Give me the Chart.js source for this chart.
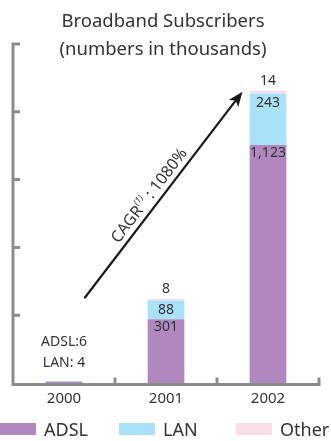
<!DOCTYPE html>
<html>
<head>
<meta charset="utf-8">
<script src="https://cdn.jsdelivr.net/npm/chart.js@4/dist/chart.umd.min.js"></script>
<style>
  html, body { margin: 0; padding: 0; background: #fff; }
  #wrap { width: 331px; height: 441px; position: relative; }
</style>
</head>
<body>
<div id="wrap"><canvas id="c"></canvas></div>
<script>
// Broadband subscribers by year, in thousands
const years = ['2000', '2001', '2002'];
const adsl  = [6, 301, 1123];
const lan   = [4, 88, 243];
const other = [0, 8, 14];
const yTicks = [0, 320, 640, 960, 1280, 1600];
const titleLines = ['Broadband Subscribers', '(numbers in thousands)'];
const cagrLabel = 'CAGR';
const cagrNote = '(1)';
const cagrValue = ' : 1080%';

const FONT = '"Noto Sans", "Open Sans", sans-serif';
const TEXT = '#333333';
const AXIS = '#8c8c8c';
const COLORS = { adsl: '#b088bf', lan: '#a9e1f9', other: '#f9dde8' };

// growth arrow, in data space (category index, value)
const ARROW_FROM = { x: 0.2, y: 400 };
const ARROW_TO = { x: 1.75, y: 1375 };

const fmt = v => v.toLocaleString('en-US');

// axes drawn under the bars, with inward ticks
const axes = {
  id: 'axes',
  beforeDatasetsDraw(chart) {
    const ctx = chart.ctx;
    const xs = chart.scales.x, ys = chart.scales.y;
    const area = chart.chartArea;
    const base = area.bottom + 1.5;
    ctx.save();
    ctx.strokeStyle = AXIS;
    ctx.lineWidth = 3;
    ctx.beginPath();
    ctx.moveTo(area.left, ys.getPixelForValue(yTicks[yTicks.length - 1]) - 1.5);
    ctx.lineTo(area.left, base + 1.5);
    ctx.moveTo(area.left, base);
    ctx.lineTo(area.right + 1.5, base);
    yTicks.forEach(v => {
      if (v === 0) return;
      const y = ys.getPixelForValue(v);
      ctx.moveTo(area.left, y);
      ctx.lineTo(area.left + 7, y);
    });
    const half = (xs.getPixelForValue(1) - xs.getPixelForValue(0)) / 2;
    for (let i = 0; i <= years.length; i++) {
      const x = i < years.length ? xs.getPixelForValue(i) - half : xs.getPixelForValue(i - 1) + half;
      ctx.moveTo(x, base);
      ctx.lineTo(x, base - 7);
    }
    ctx.stroke();
    ctx.restore();
  }
};

const overlay = {
  id: 'overlay',
  afterDraw(chart) {
    const ctx = chart.ctx;
    const xs = chart.scales.x, ys = chart.scales.y;
    const area = chart.chartArea;
    ctx.save();

    // title
    ctx.fillStyle = TEXT;
    ctx.font = '18.5px ' + FONT;
    ctx.textAlign = 'center';
    ctx.textBaseline = 'middle';
    ctx.fillText(titleLines[0], 163, 22);
    ctx.fillText(titleLines[1], 163, 50);

    // value labels
    ctx.font = '14px ' + FONT;
    years.forEach((yr, i) => {
      const x = xs.getPixelForValue(i);
      const total = adsl[i] + lan[i] + other[i];
      const topPx = ys.getPixelForValue(total);
      if (area.bottom - topPx < 20) {
        ctx.fillText('ADSL:' + adsl[i], x, topPx - 39);
        ctx.fillText('LAN: ' + lan[i], x, topPx - 18);
        return;
      }
      ctx.fillText(fmt(adsl[i]), x, ys.getPixelForValue(adsl[i]) + 8);
      ctx.fillText(fmt(lan[i]), x, ys.getPixelForValue(adsl[i] + lan[i]) + 9);
      ctx.fillText(fmt(other[i]), x, topPx - 10);
    });

    // growth arrow
    const x0 = xs.getPixelForValue(ARROW_FROM.x), y0 = ys.getPixelForValue(ARROW_FROM.y);
    const x1 = xs.getPixelForValue(ARROW_TO.x), y1 = ys.getPixelForValue(ARROW_TO.y);
    const ang = Math.atan2(y1 - y0, x1 - x0);
    const head = 15, hw = 6;
    ctx.strokeStyle = '#1a1a1a';
    ctx.fillStyle = '#1a1a1a';
    ctx.lineWidth = 2.2;
    ctx.beginPath();
    ctx.moveTo(x0, y0);
    ctx.lineTo(x1 - Math.cos(ang) * (head - 4), y1 - Math.sin(ang) * (head - 4));
    ctx.stroke();
    ctx.translate(x1, y1);
    ctx.rotate(ang);
    ctx.beginPath();
    ctx.moveTo(0, 0);
    ctx.lineTo(-head, -hw);
    ctx.lineTo(-head + 4, 0);
    ctx.lineTo(-head, hw);
    ctx.closePath();
    ctx.fill();
    ctx.setTransform(1, 0, 0, 1, 0, 0);

    // CAGR caption along the arrow
    const len = Math.hypot(x1 - x0, y1 - y0);
    const ux = (x1 - x0) / len, uy = (y1 - y0) / len;
    const along = 121, off = 6;
    const cx = x0 + ux * along + uy * off, cy = y0 + uy * along - ux * off;
    ctx.translate(cx, cy);
    ctx.rotate(ang);
    ctx.fillStyle = TEXT;
    ctx.textBaseline = 'alphabetic';
    ctx.textAlign = 'left';
    const big = '16px ' + FONT, small = 'italic 9px ' + FONT;
    ctx.font = big; const w1 = ctx.measureText(cagrLabel).width;
    ctx.font = small; const w2 = ctx.measureText(cagrNote).width;
    ctx.font = big; const w3 = ctx.measureText(cagrValue).width;
    let sx = -(w1 + w2 + w3) / 2;
    ctx.font = big; ctx.fillText(cagrLabel, sx, 0); sx += w1;
    ctx.font = small; ctx.fillText(cagrNote, sx, -8); sx += w2;
    ctx.font = big; ctx.fillText(cagrValue, sx, 0);
    ctx.setTransform(1, 0, 0, 1, 0, 0);

    // legend
    const lx = [0, 119, 236];
    ctx.font = '18px ' + FONT;
    ctx.textBaseline = 'middle';
    chart.data.datasets.forEach((ds, k) => {
      ctx.fillStyle = ds.backgroundColor;
      ctx.fillRect(lx[k], 423, 36, 12);
      ctx.fillStyle = TEXT;
      ctx.fillText(ds.label, lx[k] + 44, 431);
    });

    ctx.restore();
  }
};

new Chart(document.getElementById('c'), {
  type: 'bar',
  data: {
    labels: years,
    datasets: [
      { label: 'ADSL', data: adsl, backgroundColor: COLORS.adsl },
      { label: 'LAN', data: lan, backgroundColor: COLORS.lan },
      { label: 'Other', data: other, backgroundColor: COLORS.other }
    ]
  },
  options: {
    responsive: true,
    maintainAspectRatio: false,
    animation: false,
    layout: { padding: { top: 44, left: 13, right: 12, bottom: 26 } },
    datasets: { bar: { categoryPercentage: 1, barPercentage: 0.36, borderWidth: 0 } },
    plugins: { legend: { display: false }, title: { display: false }, tooltip: { enabled: false } },
    scales: {
      x: {
        stacked: true,
        grid: { display: false, drawTicks: false },
        border: { display: false },
        ticks: { color: TEXT, font: { size: 15, family: FONT }, padding: 7 }
      },
      y: {
        stacked: true,
        display: false,
        min: 0,
        max: 1600,
        ticks: { stepSize: 320 }
      }
    }
  },
  plugins: [axes, overlay]
});
</script>
</body>
</html>
